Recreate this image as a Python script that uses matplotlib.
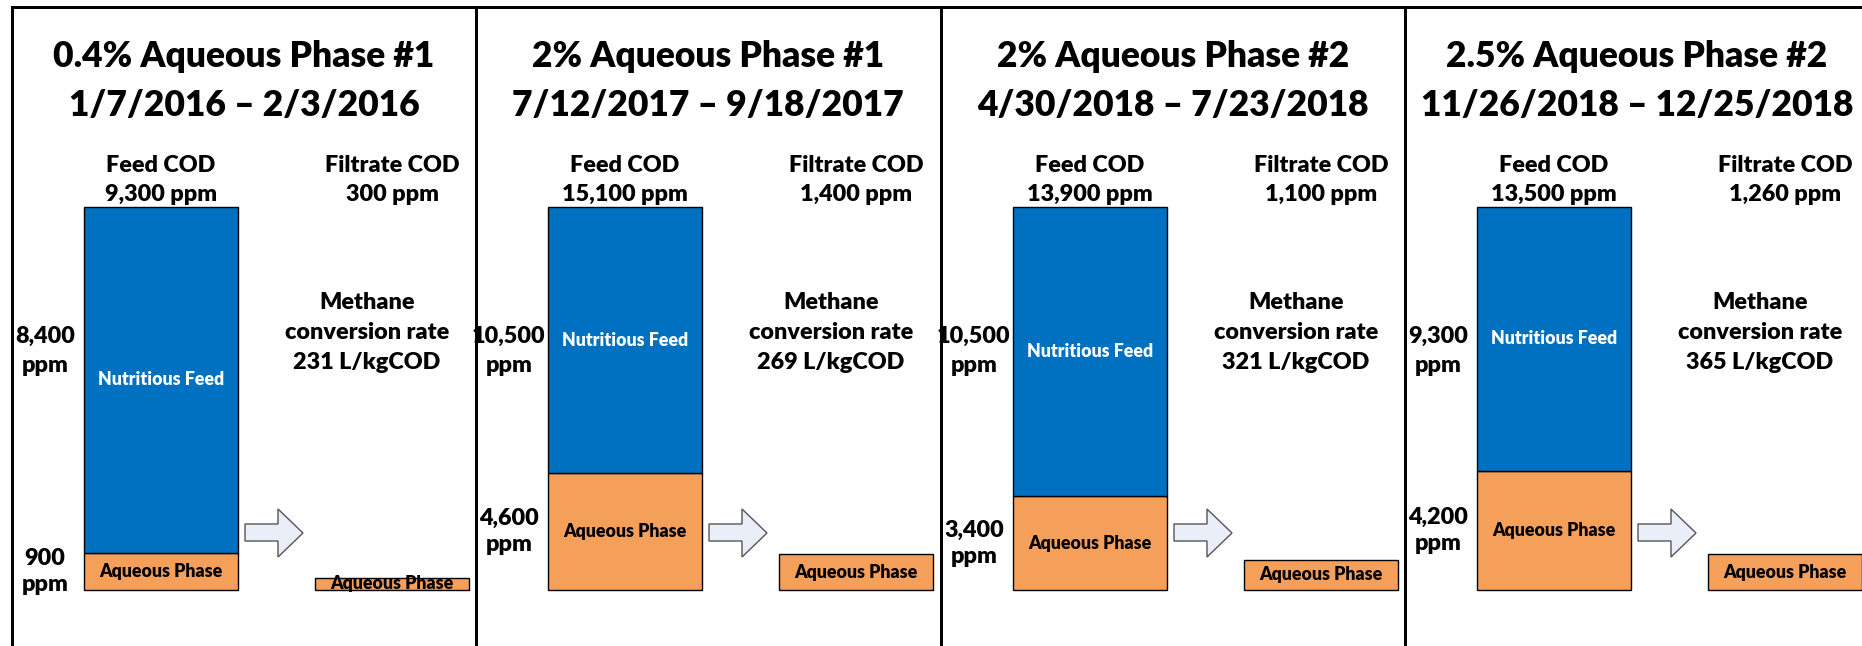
import numpy as np
import matplotlib.pyplot as plt
from matplotlib.lines import Line2D
from matplotlib.patches import Polygon

plt.rcParams['font.family'] = ['Lato', 'DejaVu Sans']
plt.rcParams['font.weight'] = 'heavy'

###############################################################################
# Data
titles    = ['0.4% Aqueous Phase #1', '2% Aqueous Phase #1',
             '2% Aqueous Phase #2', '2.5% Aqueous Phase #2']
periods   = ['1/7/2016 \u2013 2/3/2016', '7/12/2017 \u2013 9/18/2017',
             '4/30/2018 \u2013 7/23/2018', '11/26/2018 \u2013 12/25/2018']
feed_cod  = [9300, 15100, 13900, 13500]     # ppm
nutritious = [8400, 10500, 10500, 9300]     # ppm
aqueous   = [900, 4600, 3400, 4200]         # ppm
filtrate  = [300, 1400, 1100, 1260]         # ppm
methane   = [231, 269, 321, 365]            # L/kgCOD

###############################################################################
W, H = 1862, 646
BLUE = '#0070C0'
ORANGE = '#F5A05A'

fig = plt.figure(figsize=(W/100., H/100.), dpi=100)

panel_left = [12, 476, 941, 1405]
panel_w = 464
bar_bottom_px = 590   # from top
bar_top_px = 207
fs = 16.8   # main text size
fs_in = 12.8  # text inside bars

def fy(px):
  # pixel from top -> axes fraction
  return 1.0 - px/float(H)

for i in range(4):
  ax = fig.add_axes([panel_left[i]/float(W), 0, panel_w/float(W), 1])
  ax.set_axis_off()
  tot = feed_cod[i]
  k = (bar_bottom_px - bar_top_px)/float(tot)    # px per ppm
  ax.set_xlim(0, panel_w)
  ax.set_ylim(-(H - bar_bottom_px)/k, bar_bottom_px/k)
  tr = ax.get_xaxis_transform()

  # feed bar: aqueous part + nutritious part
  ax.bar(149, aqueous[i], width=154, color=ORANGE, edgecolor='black', linewidth=1)
  ax.bar(149, nutritious[i], width=154, bottom=aqueous[i], color=BLUE,
         edgecolor='black', linewidth=1)
  # filtrate bar
  ax.bar(380, filtrate[i], width=154, color=ORANGE, edgecolor='black', linewidth=1)

  # labels inside bars
  ax.text(149, aqueous[i] + nutritious[i]/2., 'Nutritious Feed', color='white',
          fontsize=fs_in, ha='center', va='center')
  ax.text(149, aqueous[i]/2., 'Aqueous Phase', color='black',
          fontsize=fs_in, ha='center', va='center')
  ax.text(380, filtrate[i]/2., 'Aqueous Phase', color='black',
          fontsize=fs_in, ha='center', va='center')

  # arrow
  arr = np.array([[233, 524], [266, 524], [266, 509], [291, 533],
                  [266, 557], [266, 541], [233, 541]], dtype=float)
  arr[:, 1] = fy(arr[:, 1])
  ax.add_patch(Polygon(arr, closed=True, transform=tr, facecolor='#E9EEF8',
                       edgecolor='#555555', linewidth=1))

  # title
  ax.text(232, fy(67), titles[i], transform=tr, fontsize=25.5,
          ha='center', va='baseline')
  ax.text(232, fy(116), periods[i], transform=tr, fontsize=25.5,
          ha='center', va='baseline')

  # feed / filtrate COD
  ax.text(149, fy(172), 'Feed COD', transform=tr, fontsize=fs, ha='center', va='baseline')
  ax.text(149, fy(201), '{:,} ppm'.format(feed_cod[i]), transform=tr, fontsize=fs,
          ha='center', va='baseline')
  ax.text(380, fy(172), 'Filtrate COD', transform=tr, fontsize=fs, ha='center', va='baseline')
  ax.text(380, fy(201), '{:,} ppm'.format(filtrate[i]), transform=tr, fontsize=fs,
          ha='center', va='baseline')

  # methane conversion
  ax.text(355, fy(309), 'Methane', transform=tr, fontsize=fs, ha='center', va='baseline')
  ax.text(355, fy(339), 'conversion rate', transform=tr, fontsize=fs, ha='center', va='baseline')
  ax.text(355, fy(369), '{} L/kgCOD'.format(methane[i]), transform=tr, fontsize=fs,
          ha='center', va='baseline')

  # left side numbers
  ax.text(33, fy(343), '{:,}'.format(nutritious[i]), transform=tr, fontsize=fs,
          ha='center', va='baseline')
  ax.text(33, fy(372), 'ppm', transform=tr, fontsize=fs, ha='center', va='baseline')
  ax.text(33, aqueous[i]/2., '{:,}\nppm'.format(aqueous[i]), fontsize=fs,
          ha='center', va='center', linespacing=1.3)

# frame lines
lw = 3*72/100.
fig.add_artist(Line2D([12/float(W), 1.0], [fy(7), fy(7)], color='black', linewidth=lw))
for x in panel_left:
  fig.add_artist(Line2D([x/float(W), x/float(W)], [0, fy(7)], color='black', linewidth=lw))

plt.savefig('out.png', dpi=100)
